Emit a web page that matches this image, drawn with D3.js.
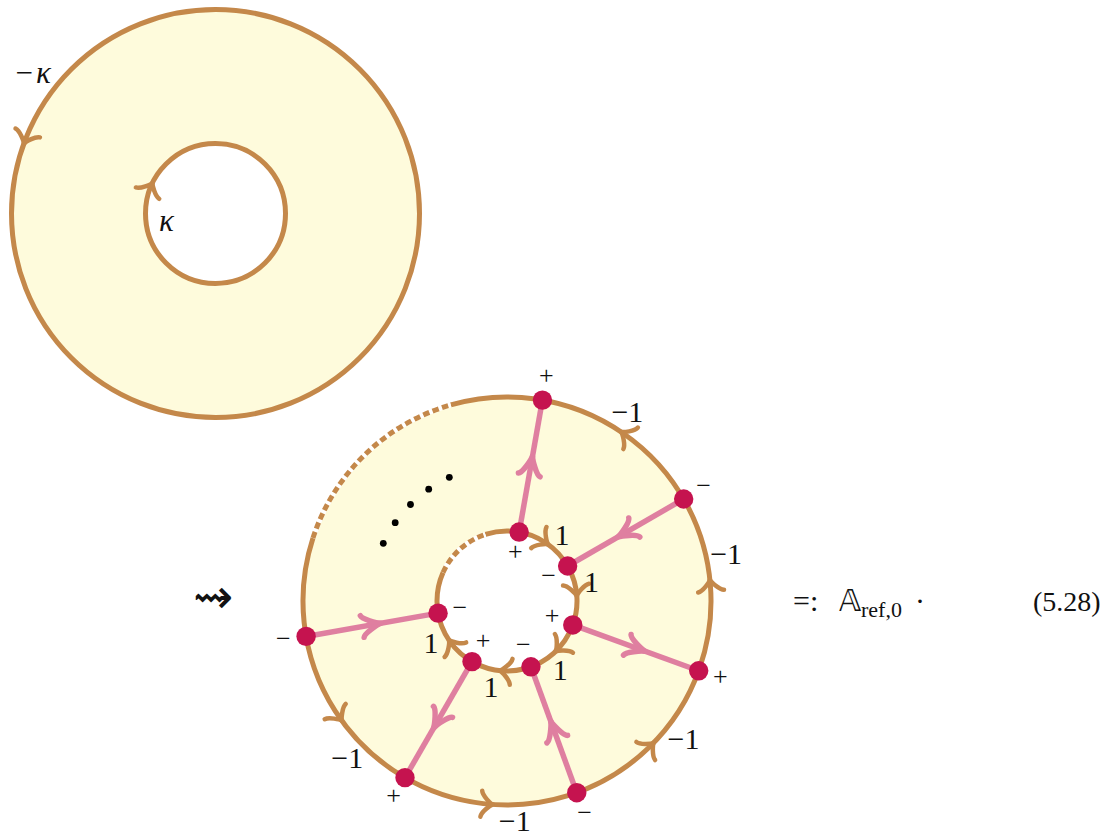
<!DOCTYPE html>
<html><head><meta charset="utf-8">
<script src="https://cdn.jsdelivr.net/npm/d3@7"></script>
<style>body{margin:0;background:#fff;} svg{display:block;} text{font-family:"Liberation Serif","DejaVu Serif",serif;}</style>
</head><body>
<svg id="c" width="1104" height="839"></svg>
<script>
// ---------- data ----------
const nodeAngles = [170, 120, 70, 20, -30, -80];          // node positions on both boundary circles
const innerSigns = ["−", "+", "−", "+", "−", "+"];
const outerSigns = ["−", "+", "−", "+", "−", "+"];
const spokeDirections = ["in", "out", "in", "out", "in", "out"];
const arcMidAngles = [-55, -5, 45, 95, 145];
const outerArcLabels = ["−1", "−1", "−1", "−1", "−1"];
const outerArcLabelAngles = [-57.5, -12, 38, 88, 135.5];
const innerArcLabels = ["1", "1", "1", "1", "1"];
const innerArcLabelAngles = [-50.6, -12.7, 52, 100.6, 151.6];
const dashedOuter = [-162, -106];
const dashedInner = [-156, -108];
const dotAngles = [-155, -145, -135, -125, -115];
const topLabels = ["κ"];
const equationNumber = "(5.28)";

// ---------- styles / geometry ----------
const BROWN = "#c4884a", FILL = "#fefbdc", PINK = "#df7fa0", NODE = "#c5134f";
const R = 204, r = 70;
const topC = [215.5, 213.5], botC = [507, 601];
const svg = d3.select("#c");
const rad = d3.scaleLinear().domain([0, 360]).range([0, 2 * Math.PI]);
const pol = (c, rr, a) => [c[0] + rr * Math.cos(rad(a)), c[1] + rr * Math.sin(rad(a))];

function arcPath(c, rr, a0, a1) {
  const p = d3.path();
  const s = pol(c, rr, a0);
  p.moveTo(s[0], s[1]);
  p.arc(c[0], c[1], rr, rad(a0), rad(a1), false);
  return p.toString();
}
function annulus(c) {
  svg.append("path")
    .attr("transform", `translate(${c[0]},${c[1]})`)
    .attr("d", d3.arc().innerRadius(r).outerRadius(R).startAngle(0).endAngle(2 * Math.PI)())
    .attr("fill", FILL);
}
const brownArrowD = "M-11.5,-13 C-10.9,-8.1 -2.4,-0.8 0,0 C-2.4,0.8 -10.9,8.1 -11.5,13";
const pinkArrowD = "M-19,-11 C-18,-7 -4,-0.8 0,0 C-4,0.8 -18,7 -19,11";
function arrow(pt, dir, d, color, w) {
  svg.append("path").attr("d", d)
    .attr("transform", `translate(${pt[0]},${pt[1]}) rotate(${dir})`)
    .attr("fill", "none").attr("stroke", color).attr("stroke-width", w)
    .attr("stroke-linecap", "round").attr("stroke-linejoin", "round");
}
function label(x, y, txt, size, opts = {}) {
  const t = svg.append("text").attr("x", x).attr("y", y).text(txt)
    .attr("font-size", size)
    .attr("text-anchor", opts.anchor || "middle").attr("fill", "#111");
  if (opts.family) t.style("font-family", opts.family);
  if (opts.italic) t.style("font-style", "italic");
  if (opts.weight) t.style("font-weight", opts.weight);
  return t;
}

// ---------- top annulus ----------
annulus(topC);
svg.append("circle").attr("cx", topC[0]).attr("cy", topC[1]).attr("r", R)
  .attr("fill", "none").attr("stroke", BROWN).attr("stroke-width", 5);
svg.append("circle").attr("cx", topC[0]).attr("cy", topC[1]).attr("r", r)
  .attr("fill", "none").attr("stroke", BROWN).attr("stroke-width", 5);
arrow(pol(topC, R, -160), -160 - 90, brownArrowD, BROWN, 4.5);
arrow(pol(topC, r, -154), -154 + 90, brownArrowD, BROWN, 4.5);
{
  const p = pol(topC, 229, -142.8);
  const t = svg.append("text").attr("x", p[0]).attr("y", p[1] + 8)
    .attr("text-anchor", "middle").attr("font-size", 31).attr("fill", "#111");
  t.append("tspan").text("−");
  t.append("tspan").attr("dx", 3).style("font-style", "italic").text(topLabels[0]);
  const q = pol(topC, 50, 169.6);
  label(q[0], q[1] + 8, topLabels[0], 31, { italic: true });
}

// ---------- bottom annulus ----------
annulus(botC);
svg.append("path").attr("d", arcPath(botC, R, dashedOuter[1], dashedOuter[0] + 360))
  .attr("fill", "none").attr("stroke", BROWN).attr("stroke-width", 5);
svg.append("path").attr("d", arcPath(botC, r, dashedInner[1], dashedInner[0] + 360))
  .attr("fill", "none").attr("stroke", BROWN).attr("stroke-width", 5);
[[R, dashedOuter], [r, dashedInner]].forEach(([rr, rg]) => {
  svg.append("path").attr("d", arcPath(botC, rr, rg[0], rg[1]))
    .attr("fill", "none").attr("stroke", "#fff").attr("stroke-width", 5);
  svg.append("path").attr("d", arcPath(botC, rr, rg[0], rg[1]))
    .attr("fill", "none").attr("stroke", BROWN).attr("stroke-width", 5)
    .attr("stroke-dasharray", "6.5,3.5");
});

// boundary arrows: outer counter-clockwise, inner clockwise
arcMidAngles.forEach(a => {
  arrow(pol(botC, R, a - 1), a - 1 - 90, brownArrowD, BROWN, 4.5);
  arrow(pol(botC, r, a + 1), a + 1 + 90, brownArrowD, BROWN, 4.5);
});

// spokes
nodeAngles.forEach((a, i) => {
  const pi = pol(botC, r, a), po = pol(botC, R, a);
  svg.append("line").attr("x1", pi[0]).attr("y1", pi[1]).attr("x2", po[0]).attr("y2", po[1])
    .attr("stroke", PINK).attr("stroke-width", 5.5);
  const out = spokeDirections[i] === "out";
  const tip = pol(botC, (r + R) / 2 + (out ? 10 : -9), a);
  arrow(tip, out ? a : a + 180, pinkArrowD, PINK, 5.5);
});

// nodes
nodeAngles.forEach(a => {
  [r, R].forEach(rr => {
    const p = pol(botC, rr, a);
    svg.append("circle").attr("cx", p[0]).attr("cy", p[1]).attr("r", 9.7).attr("fill", NODE);
  });
});

// node signs
nodeAngles.forEach((a, i) => {
  const pi = pol(botC, 48, a);
  label(pi[0], pi[1] + 6.5, innerSigns[i], 26);
  const po = pol(botC, 227, a);
  label(po[0], po[1] + 6.5, outerSigns[i], 26);
});

// arc weight labels (kept inside the canvas)
outerArcLabelAngles.forEach((a, i) => {
  const p = pol(botC, 224, a);
  label(p[0], Math.min(p[1] + 10, 831), outerArcLabels[i], 30);
});
innerArcLabelAngles.forEach((a, i) => {
  const p = pol(botC, 86.5, a);
  label(p[0], p[1] + 10.5, innerArcLabels[i], 30);
});

// dots
dotAngles.forEach(a => {
  const p = pol(botC, 136.5, a);
  svg.append("circle").attr("cx", p[0]).attr("cy", p[1]).attr("r", 3.4).attr("fill", "#000");
});

// ---------- equation text ----------
label(213, 613, "⇝", 48, { family: "'DejaVu Sans', sans-serif" });
label(793, 611, "=:", 30, { anchor: "start" });
label(839, 611, "𝔸", 30, { anchor: "start", family: "'DejaVu Sans', 'DejaVu Serif', serif" });
label(861, 617, "ref,0", 22, { anchor: "start" });
label(920, 611, "·", 30);
label(1033, 611, equationNumber, 28, { anchor: "start" });
</script>
</body></html>
